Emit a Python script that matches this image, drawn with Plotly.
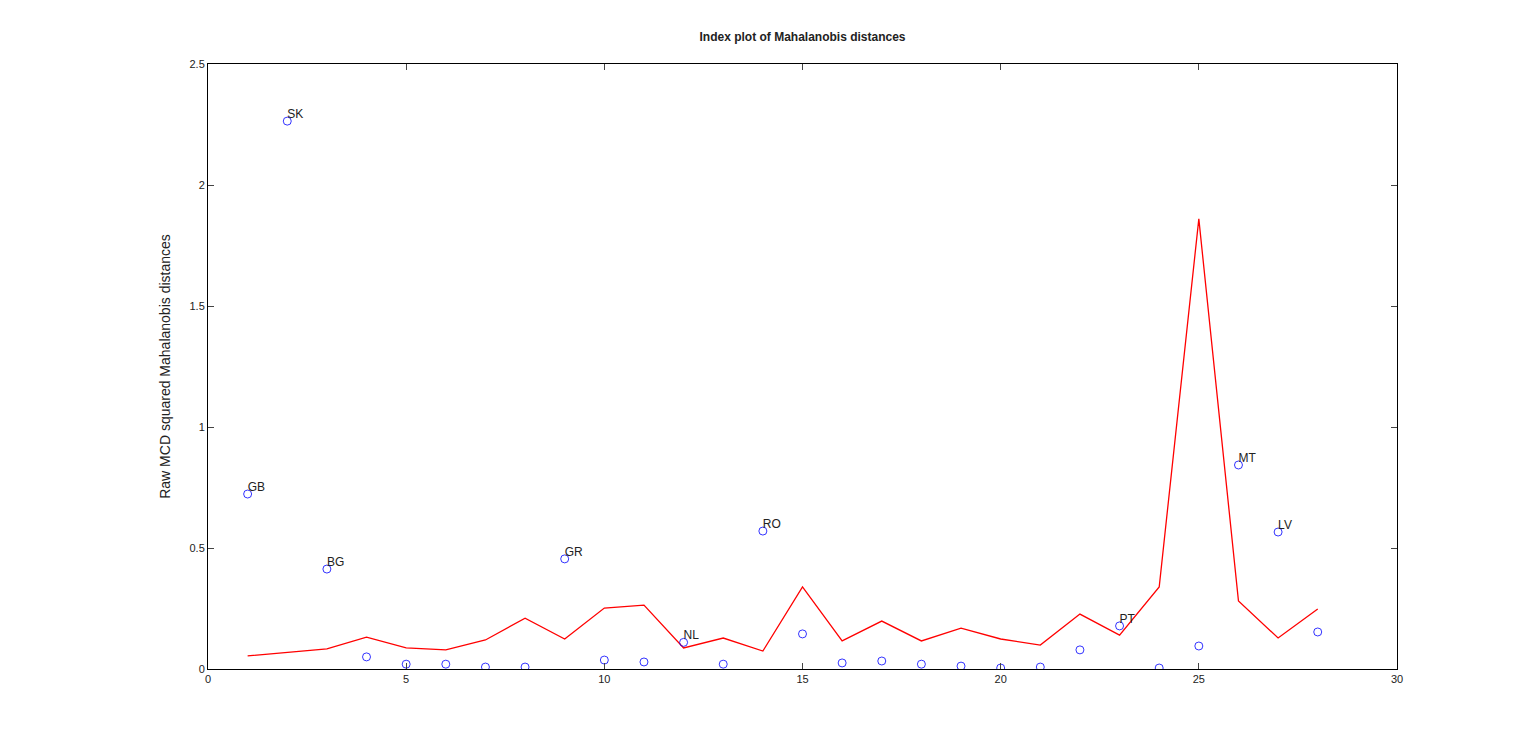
import plotly.graph_objects as go

idx = list(range(1, 29))
md = [0.723, 2.264, 0.413, 0.05, 0.02, 0.02, 0.008, 0.008, 0.455, 0.037, 0.029, 0.11, 0.02, 0.57,
      0.145, 0.025, 0.033, 0.02, 0.012, 0.004, 0.008, 0.079, 0.178, 0.004, 0.095, 0.843, 0.566, 0.153]
line_x = [1, 3, 4, 5, 6, 7, 8, 9, 10, 11, 12, 13, 14, 15, 16, 17, 18, 19, 20, 21, 22, 23, 24, 25, 26, 27, 28]
line_y = [0.054, 0.083, 0.132, 0.087, 0.079, 0.12, 0.21, 0.124, 0.252, 0.264, 0.087, 0.128, 0.074, 0.339,
          0.116, 0.198, 0.116, 0.169, 0.124, 0.099, 0.227, 0.14, 0.339, 1.86, 0.281, 0.128, 0.248]
lab_x = [1, 2, 3, 9, 12, 14, 23, 26, 27]
lab_t = ["GB", "SK", "BG", "GR", "NL", "RO", "PT", "MT", "LV"]

fig = go.Figure()
fig.add_trace(go.Scatter(x=line_x, y=line_y, mode="lines", line=dict(color="red", width=1.3), showlegend=False))
fig.add_trace(go.Scatter(x=idx, y=md, mode="markers",
                         marker=dict(symbol="circle-open", color="blue", size=8, line=dict(width=0.8)),
                         showlegend=False))
fig.add_trace(go.Scatter(x=lab_x, y=[md[i - 1] for i in lab_x], mode="text", text=lab_t,
                         textposition="top right", textfont=dict(size=12, color="#222"), showlegend=False))
ax = dict(showline=True, linecolor="black", mirror="ticks", ticks="inside", ticklen=6, showgrid=False,
          zeroline=False, tickfont=dict(size=11, color="#222"))
fig.update_layout(
    width=1536, height=744, plot_bgcolor="white", paper_bgcolor="white",
    margin=dict(l=200, r=147, t=56, b=83),
    font=dict(family="Liberation Sans, Arial, sans-serif"),
    title=dict(text="<b>Index plot of Mahalanobis distances</b>", x=0.5, xanchor="center", y=0.955, yanchor="bottom",
               xref="paper", font=dict(size=12, color="#222")),
    xaxis=dict(range=[0, 30], dtick=5, **ax),
    yaxis=dict(range=[0, 2.5], dtick=0.5, title=dict(text="Raw MCD squared Mahalanobis distances", font=dict(size=14, color="#222"), standoff=15), **ax),
)
fig.write_html("out.html")
